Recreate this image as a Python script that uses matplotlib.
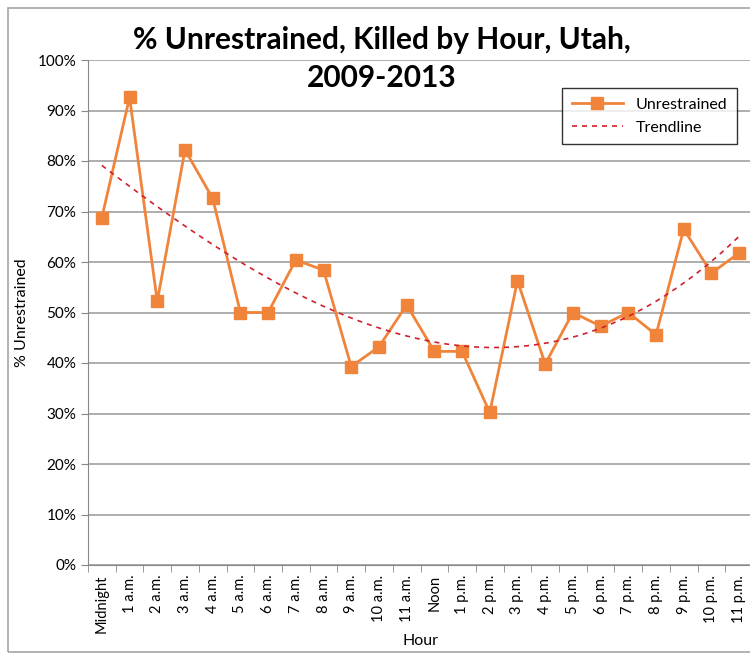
import numpy as np
import matplotlib
matplotlib.use("Agg")
import matplotlib.pyplot as plt
from matplotlib.patches import Rectangle
from matplotlib.ticker import FixedLocator, PercentFormatter

plt.rcParams['font.family'] = ['Lato', 'DejaVu Sans']

hours = ["Midnight", "1 a.m.", "2 a.m.", "3 a.m.", "4 a.m.", "5 a.m.", "6 a.m.",
         "7 a.m.", "8 a.m.", "9 a.m.", "10 a.m.", "11 a.m.", "Noon", "1 p.m.",
         "2 p.m.", "3 p.m.", "4 p.m.", "5 p.m.", "6 p.m.", "7 p.m.", "8 p.m.",
         "9 p.m.", "10 p.m.", "11 p.m."]
unrestrained = [68.8, 92.6, 52.2, 82.2, 72.6, 50.0, 50.0, 60.4, 58.4, 39.3, 43.2, 51.5,
                42.3, 42.3, 30.2, 56.3, 39.8, 50.0, 47.3, 50.0, 45.6, 66.5, 57.8, 61.8]

x = np.arange(len(hours))
# Excel style polynomial trendline (order 3 fits the drawn curve better)
coef = np.polyfit(x, unrestrained, 3)
xs = np.linspace(0, len(hours) - 1, 200)
trend = np.polyval(coef, xs)

fig = plt.figure(figsize=(7.5, 6.56), dpi=100)
# outer chart frame
fig.patches.append(Rectangle((8 / 750, 4 / 656), 760 / 750, 644 / 656, transform=fig.transFigure,
                             fill=False, edgecolor='#a6a6a6', linewidth=1.2))

ax = fig.add_axes([88 / 750, 91 / 656, 665 / 750, 505 / 656])
ax.plot(x, unrestrained, color='#f0843a', linewidth=2, marker='s', markersize=8,
        label='Unrestrained')
ax.plot(xs, trend, color='#d0202e', linestyle=(0, (3, 3)), linewidth=1.2, label='Trendline')

ax.set_xlim(-0.5, len(hours) - 0.5)
ax.set_ylim(0, 100)
ax.set_yticks(np.arange(0, 101, 10))
ax.yaxis.set_major_formatter(PercentFormatter(decimals=0))
ax.set_xticks(x)
ax.set_xticklabels(hours, rotation=90)
ax.xaxis.set_minor_locator(FixedLocator(np.arange(-0.5, len(hours), 1)))
ax.tick_params(axis='x', which='major', length=0, pad=7, labelsize=10.5)
ax.tick_params(axis='x', which='minor', length=5, color='#888888')
ax.tick_params(axis='y', length=5, color='#888888', labelsize=11)
ax.grid(axis='y', color='#a0a0a0', linewidth=1.2)
ax.set_axisbelow(True)
for s in ['top', 'right']:
    ax.spines[s].set_visible(False)
ax.spines['left'].set_color('#888888')
ax.spines['bottom'].set_color('#888888')

ax.set_ylabel('% Unrestrained', fontsize=11.5, labelpad=6)
ax.set_xlabel('Hour', fontsize=11.5, labelpad=1)

fig.text(382 / 750, 1 - 40 / 656, '% Unrestrained, Killed by Hour, Utah,', ha='center',
         va='center', fontsize=21.5, fontweight='bold')
fig.text(382 / 750, 1 - 78 / 656, '2009-2013', ha='center', va='center', fontsize=21.5,
         fontweight='bold')

leg = ax.legend(loc='upper left', bbox_to_anchor=(562 / 750, 1 - 88 / 656), bbox_transform=fig.transFigure,
                frameon=True, fancybox=False, edgecolor='black', fontsize=11.5, handlelength=3.2,
                borderpad=0.6, labelspacing=0.55, borderaxespad=0)
leg.get_frame().set_linewidth(1)

fig.savefig('out.png', dpi=100)
